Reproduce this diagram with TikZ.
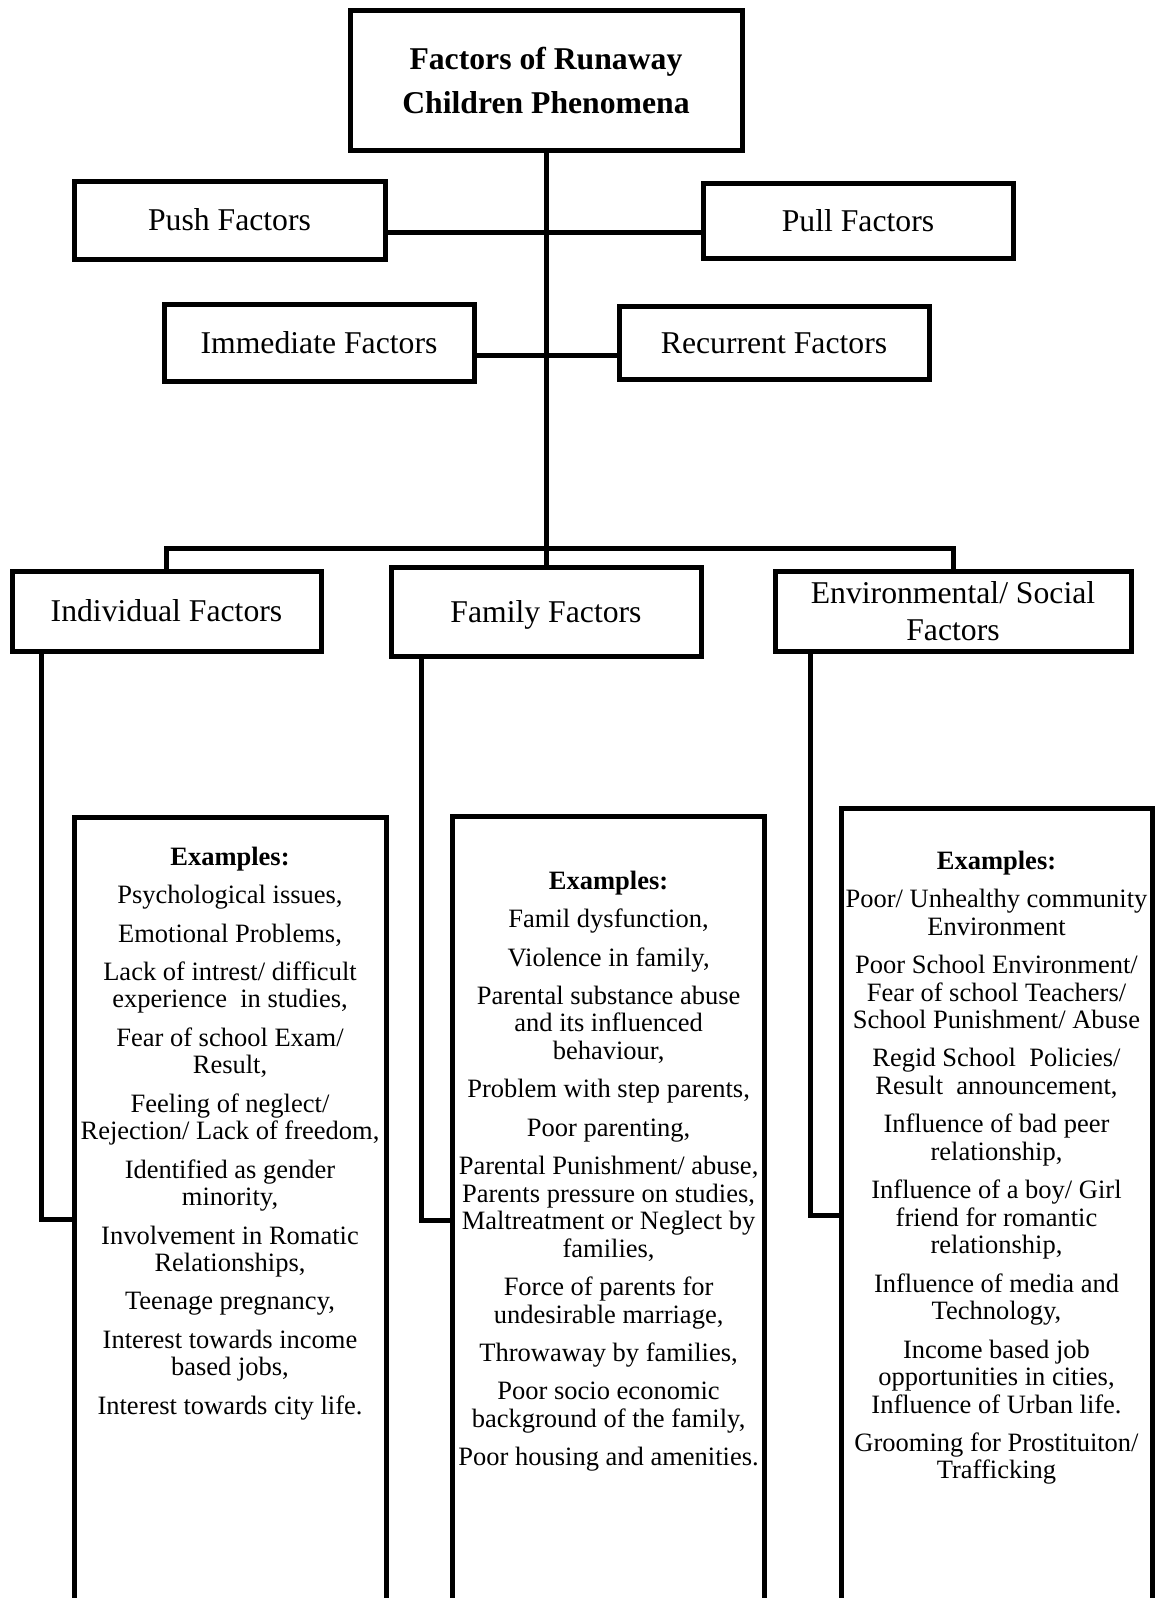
\documentclass[tikz,border=0pt]{standalone}
\usepackage{fontspec}
\setmainfont{Liberation Serif}
\begin{document}
\begin{tikzpicture}[x=1pt,y=-1pt,
  box/.style={draw, line width=5pt, inner sep=0pt, align=center},
  lbl/.style={box, font=\fontsize{31.7pt}{37.5pt}\selectfont},
  onel/.style={text height=21pt, text depth=0pt},
  exbox/.style={draw, line width=5pt, inner sep=0pt, minimum height=820pt, anchor=north},
  conn/.style={line width=5pt},
  extext/.style={inner sep=0pt, align=center, anchor=north, font=\fontsize{26.5pt}{27.5pt}\selectfont}
]
\useasboundingbox (0,0) rectangle (1157,1598);
\clip (0,0) rectangle (1157,1598);

% top level
\node[lbl, font=\bfseries\fontsize{31.7pt}{44pt}\selectfont, minimum width=392pt, minimum height=140pt] (title) at (546,80) {Factors of Runaway\\Children Phenomena};
\node[lbl, onel, minimum width=311pt, minimum height=78pt] (push) at (229.5,220) {Push Factors};
\node[lbl, onel, minimum width=310pt, minimum height=75pt] (pull) at (858,220.5) {Pull Factors};
\node[lbl, onel, minimum width=310pt, minimum height=77pt] (imm) at (319,342.5) {Immediate Factors};
\node[lbl, onel, minimum width=310pt, minimum height=73pt] (rec) at (774,342.5) {Recurrent Factors};

% category boxes
\node[lbl, onel, minimum width=309pt, minimum height=80pt] (ind) at (166.5,611) {Individual Factors};
\node[lbl, onel, minimum width=310pt, minimum height=89pt] (fam) at (546,611.5) {Family Factors};
\node[lbl, minimum width=356pt, minimum height=80pt] (env) at (953,611) {Environmental/ Social\\Factors};

% example boxes (open at the bottom edge of the page)
\node[exbox, minimum width=312pt] (exind) at (230,814.5) {};
\node[exbox, minimum width=312pt] (exfam) at (608.6,813.5) {};
\node[exbox, minimum width=311pt] (exenv) at (996.5,806.3) {};

% helper coordinates
\coordinate (pp) at (546,232);
\coordinate (ir) at (546,355);
\coordinate (c1) at (41.5,1219);
\coordinate (c2) at (421,1220);
\coordinate (c3) at (810,1215);

% connectors
\draw[conn] (title.south) -- (fam.north);
\draw[conn] (push.east |- pp) -- (pull.west |- pp);
\draw[conn] (imm.east |- ir) -- (rec.west |- ir);
\draw[conn] (ind.north) -- ++(0,-20) -| (env.north);
\draw[conn] (ind.south -| c1) |- (exind.west |- c1);
\draw[conn] (fam.south -| c2) |- (exfam.west |- c2);
\draw[conn] (env.south -| c3) |- (exenv.west |- c3);

% example texts
\node[extext] (txind) at (230,843) {\rule{0pt}{22pt}\textbf{Examples:}\\[10.9pt]
Psychological issues,\\[10.9pt]
Emotional Problems,\\[10.9pt]
Lack of intrest/ difficult\\
experience~ in studies,\\[10.9pt]
Fear of school Exam/\\
Result,\\[10.9pt]
Feeling of neglect/\\
Rejection/ Lack of freedom,\\[10.9pt]
Identified as gender\\
minority,\\[10.9pt]
Involvement in Romatic\\
Relationships,\\[10.9pt]
Teenage pregnancy,\\[10.9pt]
Interest towards income\\
based jobs,\\[10.9pt]
Interest towards city life.};

\node[extext] (txfam) at (608.6,867) {\rule{0pt}{22pt}\textbf{Examples:}\\[10.9pt]
Famil dysfunction,\\[10.9pt]
Violence in family,\\[10.9pt]
Parental substance abuse\\
and its influenced\\
behaviour,\\[10.9pt]
Problem with step parents,\\[10.9pt]
Poor parenting,\\[10.9pt]
Parental Punishment/ abuse,\\
Parents pressure on studies,\\
Maltreatment or Neglect by\\
families,\\[10.9pt]
Force of parents for\\
undesirable marriage,\\[10.9pt]
Throwaway by families,\\[10.9pt]
Poor socio economic\\
background of the family,\\[10.9pt]
Poor housing and amenities.};

\node[extext] (txenv) at (996.5,847) {\rule{0pt}{22pt}\textbf{Examples:}\\[10.9pt]
Poor/ Unhealthy community\\
Environment\\[10.9pt]
Poor School Environment/\\
Fear of school Teachers/\\
School Punishment/ Abuse\\[10.9pt]
Regid School~ Policies/\\
Result~ announcement,\\[10.9pt]
Influence of bad peer\\
relationship,\\[10.9pt]
Influence of a boy/ Girl\\
friend for romantic\\
relationship,\\[10.9pt]
Influence of media and\\
Technology,\\[10.9pt]
Income based job\\
opportunities in cities,\\
Influence of Urban life.\\[10.9pt]
Grooming for Prostituiton/\\
Trafficking};
\end{tikzpicture}
\end{document}
